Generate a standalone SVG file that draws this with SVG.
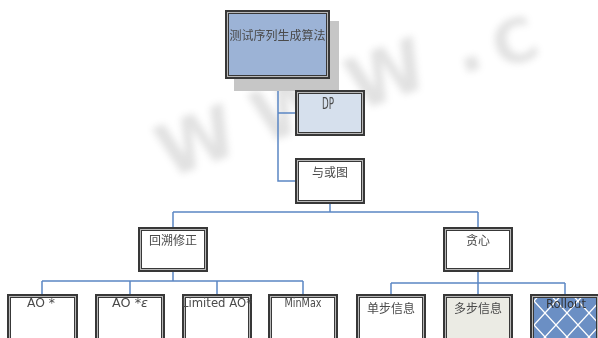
<svg xmlns="http://www.w3.org/2000/svg" width="598" height="338" viewBox="0 0 598 338">
<style>
.bo{stroke:#383838;stroke-width:4}
.bi{fill:none;stroke:#b8b8b8;stroke-width:1}
.cn{fill:none;stroke:#5b86c4;stroke-width:1.5}
.zh{font-family:"Noto Sans CJK SC","Noto Sans",sans-serif;font-size:12px;fill:#4a4a4a;text-anchor:middle}
.la{font-family:"DejaVu Sans","Liberation Sans",sans-serif;font-size:13px;fill:#4a4a4a;text-anchor:middle}
.wm{font-family:"DejaVu Sans",sans-serif;font-weight:bold;font-size:72px;fill:#7a7a7a;text-anchor:middle}
</style>
<defs>
<filter id="blur" x="-20%" y="-20%" width="140%" height="140%"><feGaussianBlur stdDeviation="3.5"/></filter>
<pattern id="lattice" width="22" height="24" patternUnits="userSpaceOnUse" x="523" y="289">
<rect width="22" height="24" fill="#6b8fc4"/>
<path d="M0 0 L22 24 M22 0 L0 24" stroke="#ffffff" stroke-width="1.3" fill="none"/>
</pattern>
</defs>
<rect width="598" height="338" fill="#ffffff"/>
<g id="watermark" filter="url(#blur)" opacity="0.22">
<text class="wm" x="205" y="165" transform="rotate(-20 205 165)">W</text>
<text class="wm" x="300" y="131" transform="rotate(-20 300 131)">W</text>
<text class="wm" x="395" y="98" transform="rotate(-20 395 98)">W</text>
<text class="wm" x="474" y="70" transform="rotate(-20 474 70)">.</text>
<text class="wm" x="522" y="62" transform="rotate(-20 522 62)" style="font-size:60px">C</text>
</g>
<g id="connectors">
<path class="cn" d="M278 79 V181 H295 M278 113 H295"/>
<path class="cn" d="M330 204 V212 M173 212 H478 M173 212 V227 M478 212 V227"/>
<path class="cn" d="M173 272 V281 M42 281 H303 M42 281 V294 M130 281 V294 M217 281 V294 M303 281 V294"/>
<path class="cn" d="M478 272 V283 M391 283 H565 M391 283 V294 M478 283 V294 M565 283 V294"/>
</g>
<g id="n-root">
<rect x="234" y="21" width="105" height="70" fill="#c6c6c6"/>
<rect class="bo" x="227" y="12" width="101" height="65" fill="#9cb3d6"/>
<rect class="bi" x="227.5" y="12.5" width="100" height="64"/>
<text class="zh" x="277.5" y="40">测试序列生成算法</text>
</g>
<g id="n-dp">
<rect class="bo" x="297" y="92" width="66" height="42" fill="#d6e0ed"/>
<rect class="bi" x="297.5" y="92.5" width="65" height="41"/>
<text class="la" x="328" y="109" style="font-size:15px" textLength="12" lengthAdjust="spacingAndGlyphs">DP</text>
</g>
<g id="n-andor">
<rect class="bo" x="297" y="160" width="66" height="42" fill="#ffffff"/>
<rect class="bi" x="297.5" y="160.5" width="65" height="41"/>
<text class="zh" x="330" y="177">与或图</text>
</g>
<g id="n-backtrack">
<rect class="bo" x="140" y="229" width="66" height="41" fill="#ffffff"/>
<rect class="bi" x="140.5" y="229.5" width="65" height="40"/>
<text class="zh" x="173" y="245">回溯修正</text>
</g>
<g id="n-greedy">
<rect class="bo" x="445" y="229" width="66" height="41" fill="#ffffff"/>
<rect class="bi" x="445.5" y="229.5" width="65" height="40"/>
<text class="zh" x="478" y="245">贪心</text>
</g>
<g id="n-ao">
<rect class="bo" x="9" y="296" width="67" height="50" fill="#ffffff"/>
<rect class="bi" x="9.5" y="296.5" width="66" height="49"/>
<text class="la" x="41" y="307" textLength="28" lengthAdjust="spacingAndGlyphs">AO *</text>
</g>
<g id="n-aoe">
<rect class="bo" x="97" y="296" width="66" height="50" fill="#ffffff"/>
<rect class="bi" x="97.5" y="296.5" width="65" height="49"/>
<text class="la" x="130" y="307" textLength="36" lengthAdjust="spacingAndGlyphs">AO *<tspan font-style="italic">ε</tspan></text>
</g>
<g id="n-limited">
<rect class="bo" x="184" y="296" width="66" height="50" fill="#ffffff"/>
<rect class="bi" x="184.5" y="296.5" width="65" height="49"/>
<text class="la" x="217" y="307" textLength="70" lengthAdjust="spacingAndGlyphs">Limited AO*</text>
</g>
<g id="n-minmax">
<rect class="bo" x="270" y="296" width="66" height="50" fill="#ffffff"/>
<rect class="bi" x="270.5" y="296.5" width="65" height="49"/>
<text class="la" x="303" y="307" textLength="37" lengthAdjust="spacingAndGlyphs">MinMax</text>
</g>
<g id="n-single">
<rect class="bo" x="358" y="296" width="66" height="50" fill="#ffffff"/>
<rect class="bi" x="358.5" y="296.5" width="65" height="49"/>
<text class="zh" x="391" y="313">单步信息</text>
</g>
<g id="n-multi">
<rect class="bo" x="445" y="296" width="66" height="50" fill="#ebebe4"/>
<rect class="bi" x="445.5" y="296.5" width="65" height="49"/>
<text class="zh" x="478" y="313">多步信息</text>
</g>
<g id="n-rollout">
<rect class="bo" x="532" y="296" width="66" height="50" fill="url(#lattice)"/>
<rect class="bi" x="532.5" y="296.5" width="65" height="49"/>
<text class="la" x="566" y="308" textLength="40" lengthAdjust="spacingAndGlyphs" style="fill:#333">Rollout</text>
</g>
</svg>
